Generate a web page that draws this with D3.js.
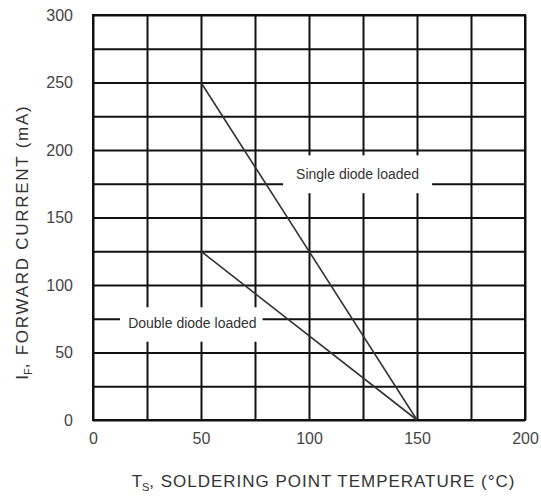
<!DOCTYPE html>
<html>
<head>
<meta charset="utf-8">
<script src="https://cdn.jsdelivr.net/npm/d3@7/dist/d3.min.js"></script>
<style>
  html, body { margin: 0; padding: 0; background: #fff; }
  svg { display: block; font-family: Arial, "Liberation Sans", sans-serif; }
</style>
</head>
<body>
<svg id="chart" width="541" height="498"></svg>
<script>
// ---- data ----
const xLabelTicks = [0, 50, 100, 150, 200];
const yLabelTicks = [0, 50, 100, 150, 200, 250, 300];
const xGridTicks = [0, 25, 50, 75, 100, 125, 150, 175, 200];
const yGridTicks = [0, 25, 50, 75, 100, 125, 150, 175, 200, 225, 250, 275, 300];
const singleDiode = [{ t: 50, i: 250 }, { t: 150, i: 0 }];
const doubleDiode = [{ t: 50, i: 125 }, { t: 150, i: 0 }];
const seriesNames = ["Single diode loaded", "Double diode loaded"];

// ---- layout ----
const W = 541, H = 498;
const margin = { top: 15, right: 16, bottom: 78, left: 93 };
const w = W - margin.left - margin.right;
const h = H - margin.top - margin.bottom;

const svg = d3.select("#chart");
const g = svg.append("g").attr("transform", `translate(${margin.left},${margin.top})`);

const x = d3.scaleLinear().domain([0, 200]).range([0, w]);
const y = d3.scaleLinear().domain([0, 300]).range([h, 0]);

// grid
const gx = g.append("g").attr("transform", `translate(0,${h})`)
  .call(d3.axisBottom(x).tickValues(xGridTicks).tickSize(-h).tickFormat(""));
const gy = g.append("g")
  .call(d3.axisLeft(y).tickValues(yGridTicks).tickSize(-w).tickFormat(""));
[gx, gy].forEach(a => {
  a.select(".domain").remove();
  a.selectAll("line").attr("stroke", "#111").attr("stroke-width", 2);
});

// frame
g.append("rect").attr("x", 0).attr("y", 0).attr("width", w).attr("height", h)
  .attr("fill", "none").attr("stroke", "#111").attr("stroke-width", 2);

// tick labels
const ax = g.append("g").attr("transform", `translate(0,${h})`)
  .call(d3.axisBottom(x).tickValues(xLabelTicks).tickSize(0).tickPadding(13));
const ay = g.append("g")
  .call(d3.axisLeft(y).tickValues(yLabelTicks).tickSize(0).tickPadding(20));
[ax, ay].forEach(a => {
  a.select(".domain").remove();
  a.selectAll("text").attr("fill", "#444").style("font-size", "16px")
    .style("font-family", "Arial, 'Liberation Sans', sans-serif");
});

// label boxes (white background annotations)
const annotations = [
  { name: seriesNames[0], x0: 88, x1: 157, y0: 168, y1: 196, tx: 122.5, ty: 182.5 },
  { name: seriesNames[1], x0: 12.5, x1: 78.5, y0: 58, y1: 83.5, tx: 46, ty: 71.5 }
];
annotations.forEach(a => {
  g.append("rect")
    .attr("x", x(a.x0)).attr("y", y(a.y1))
    .attr("width", x(a.x1) - x(a.x0)).attr("height", y(a.y0) - y(a.y1))
    .attr("fill", "#fff");
  g.append("text")
    .attr("x", x(a.tx)).attr("y", y(a.ty))
    .attr("text-anchor", "middle").attr("dominant-baseline", "central")
    .attr("fill", "#333").style("font-size", "14px")
    .text(a.name);
});

// series lines
const line = d3.line().x(d => x(d.t)).y(d => y(d.i));
[singleDiode, doubleDiode].forEach(s => {
  g.append("path").datum(s).attr("d", line)
    .attr("fill", "none").attr("stroke", "#333").attr("stroke-width", 1.6);
});

// axis titles
const xt = svg.append("text")
  .attr("x", 323).attr("y", 487)
  .attr("text-anchor", "middle").attr("fill", "#333").style("font-size", "17px");
xt.append("tspan").text("T");
xt.append("tspan").attr("dy", 4).style("font-size", "11px").text("S");
xt.append("tspan").attr("dy", -4).attr("textLength", 365).attr("lengthAdjust", "spacing")
  .text(", SOLDERING POINT TEMPERATURE (°C)");

const yt = svg.append("text")
  .attr("transform", "translate(28,243) rotate(-90)")
  .attr("text-anchor", "middle").attr("fill", "#333").style("font-size", "17px");
yt.append("tspan").text("I");
yt.append("tspan").attr("dy", 4).style("font-size", "11px").text("F");
yt.append("tspan").attr("dy", -4).attr("textLength", 262).attr("lengthAdjust", "spacing")
  .text(", FORWARD CURRENT (mA)");
</script>
</body>
</html>
